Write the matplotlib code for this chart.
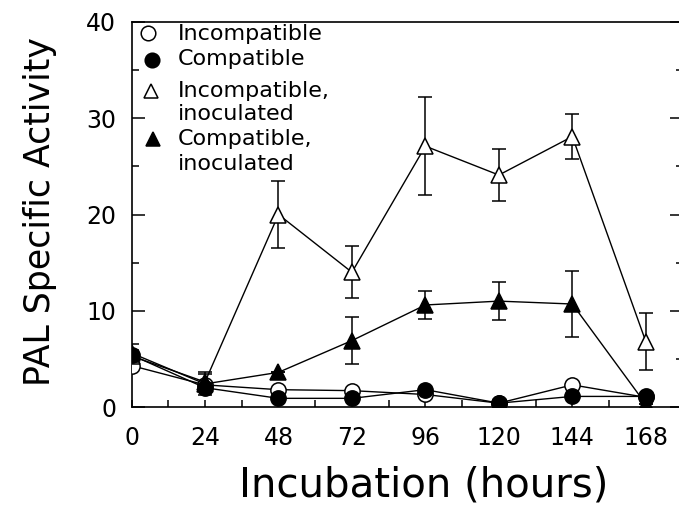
import matplotlib
matplotlib.use("Agg")
import matplotlib.pyplot as plt
from matplotlib.ticker import MultipleLocator

# PAL specific activity vs incubation time
hours = [0, 24, 48, 72, 96, 120, 144, 168]
incompat = [4.3, 2.3, 1.8, 1.7, 1.3, 0.4, 2.3, 1.0]
compat = [5.4, 2.0, 0.9, 0.9, 1.8, 0.4, 1.1, 1.1]
incompat_inoc = [5.3, 2.6, 20.0, 14.0, 27.1, 24.1, 28.1, 6.8]
incompat_inoc_err = [0.6, 0.8, 3.5, 2.7, 5.1, 2.7, 2.3, 3.0]
compat_inoc = [5.6, 2.4, 3.6, 6.9, 10.6, 11.0, 10.7, 0.3]
compat_inoc_err = [0.9, 1.2, 0.0, 2.4, 1.5, 2.0, 3.4, 0.0]

labels = ["Incompatible", "Compatible", "Incompatible,\ninoculated",
          "Compatible,\ninoculated"]
legend_markers = ["o", "o", "^", "^"]
legend_fills = ["white", "black", "white", "black"]

plt.rcParams["font.family"] = ["DejaVu Sans"]

fig = plt.figure(figsize=(6.79, 5.2), dpi=100)
ax = fig.add_axes([0.1937, 0.2173, 0.8115, 0.7404])

lw = 1.0
mew = 1.1
ax.plot(hours, incompat, color="black", lw=lw, marker="o", ms=11,
        mfc="white", mec="black", mew=mew, zorder=3)
ax.errorbar(hours, incompat_inoc, yerr=incompat_inoc_err, color="black",
            lw=lw, elinewidth=1.1, capsize=5, capthick=1.1, marker="^",
            ms=11.5, mfc="white", mec="black", mew=mew, zorder=3)
ax.errorbar(hours, compat_inoc, yerr=compat_inoc_err, color="black",
            lw=lw, elinewidth=1.1, capsize=5, capthick=1.1, marker="^",
            ms=11.5, mfc="black", mec="black", mew=mew, zorder=4)
ax.plot(hours, compat, color="black", lw=lw, marker="o", ms=11,
        mfc="black", mec="black", mew=mew, zorder=5)

ax.set_xlim(0, 180)
ax.set_ylim(0, 40)
ax.xaxis.set_minor_locator(MultipleLocator(12))
ax.yaxis.set_major_locator(MultipleLocator(10))
ax.yaxis.set_minor_locator(MultipleLocator(5))
ax.set_xticks(hours)
ax.tick_params(axis="x", which="both", direction="in", length=5, width=1.1,
               labelsize=17, pad=14)
ax.tick_params(axis="y", which="major", direction="in", length=9.5,
               width=1.1, labelsize=17, pad=11, right=True)
ax.tick_params(axis="y", which="minor", direction="in", length=5,
               width=1.1, right=True)
for s in ax.spines.values():
    s.set_linewidth(1.2)

fig.text(424 / 679, 1 - 485 / 520, "Incubation (hours)", fontsize=29,
         ha="center", va="center")
fig.text(40 / 679, 1 - 212 / 520, "PAL Specific Activity", fontsize=25,
         ha="center", va="center", rotation=90)

# legend drawn by hand so the marker sits on the first text line
def ax_y(py):
    return (407 - py) / 385.0

def ax_x(px):
    return (px - 131.5) / 551.0

baselines = [[40], [65], [97, 120], [145, 170]]
marker_y = [33, 60, 91, 139]
marker_x = [148, 152, 151, 153]
for lab, mk, fc, base, my, mx in zip(labels, legend_markers, legend_fills,
                                     baselines, marker_y, marker_x):
    ax.plot([ax_x(mx)], [ax_y(my)], transform=ax.transAxes, ls="none",
            marker=mk, ms=10.5 if mk == "o" else 9.5, mfc=fc, mec="black",
            mew=1.1, clip_on=False)
    for line, b in zip(lab.split("\n"), base):
        ax.text(ax_x(178), ax_y(b), line, transform=ax.transAxes,
                fontsize=16, va="baseline", ha="left")

fig.savefig("out.png", dpi=100)
